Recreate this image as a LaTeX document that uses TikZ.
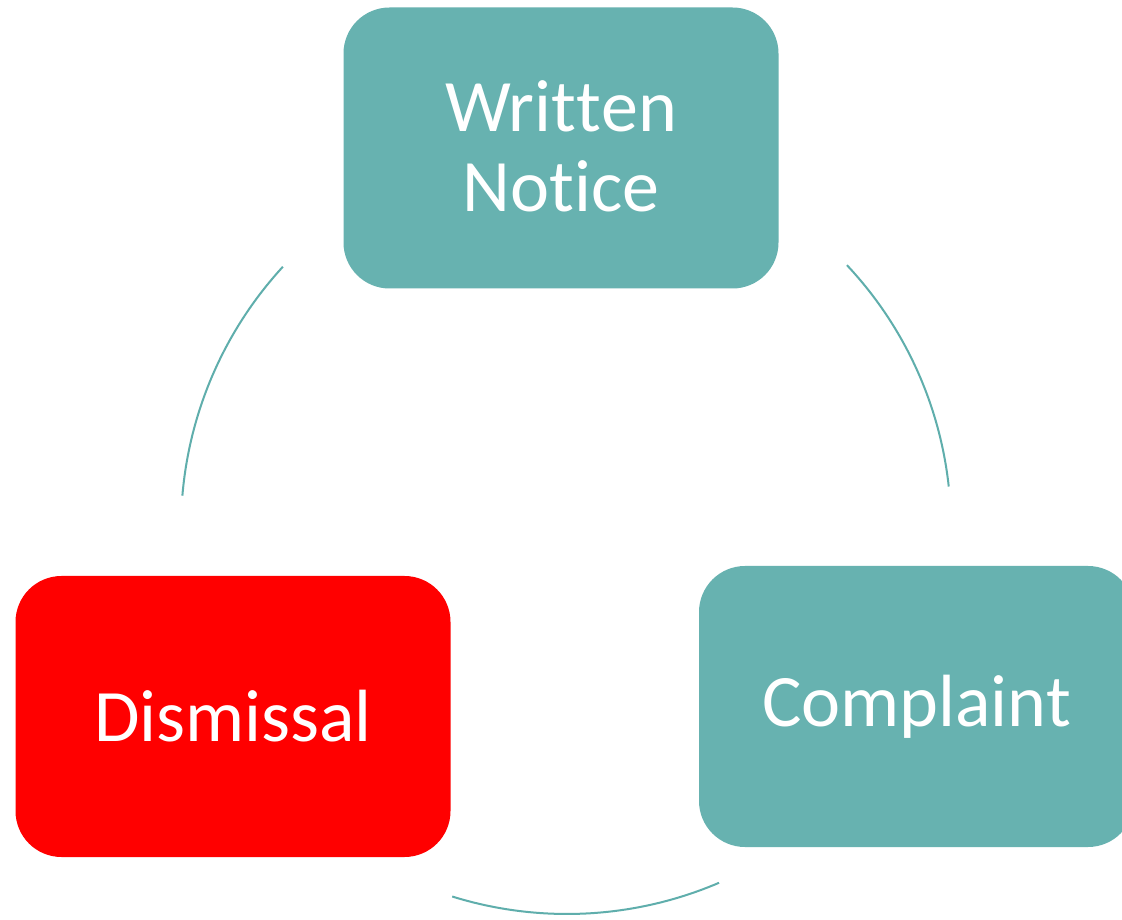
\documentclass[tikz,border=0pt]{standalone}
\usepackage{fontspec}
\setmainfont[Ligatures=NoCommon]{Carlito}
\definecolor{tealbox}{RGB}{103,178,176}
\definecolor{tealline}{RGB}{95,174,172}
\definecolor{redbox}{RGB}{255,0,0}
\begin{document}
\begin{tikzpicture}[x=1pt,y=1pt,
  stepbox/.style={rectangle, rounded corners=46pt, minimum width=435pt, minimum height=281pt,
    inner sep=0pt, text=white, align=center, font=\fontsize{74}{80}\selectfont},
  cycarc/.style={draw=tealline, line width=2pt}]
\clip (0,0) rectangle (1122,919);
\fill[white] (0,0) rectangle (1122,919);
\node[stepbox, fill=tealbox] (wn) at (561,771) {Writ\kern0pt t\kern0pt en\\Not\kern0pt ice\rule[-4pt]{0pt}{4pt}};
\node[stepbox, fill=tealbox] (cp) at (916.5,212.5) {Complaint};
\node[stepbox, fill=redbox] (dm) at (233,202.5) {Dismissal};
\coordinate (cc) at (567,391);
\draw[cycarc] (cc) ++(43.2:384) arc[start angle=43.2, end angle=6.2, radius=384];
\draw[cycarc] (cc) ++(-66.8:386) arc[start angle=-66.8, end angle=-107.3, radius=386];
\draw[cycarc] (cc) ++(175.2:386) arc[start angle=175.2, end angle=137.4, radius=386];
\end{tikzpicture}
\end{document}
